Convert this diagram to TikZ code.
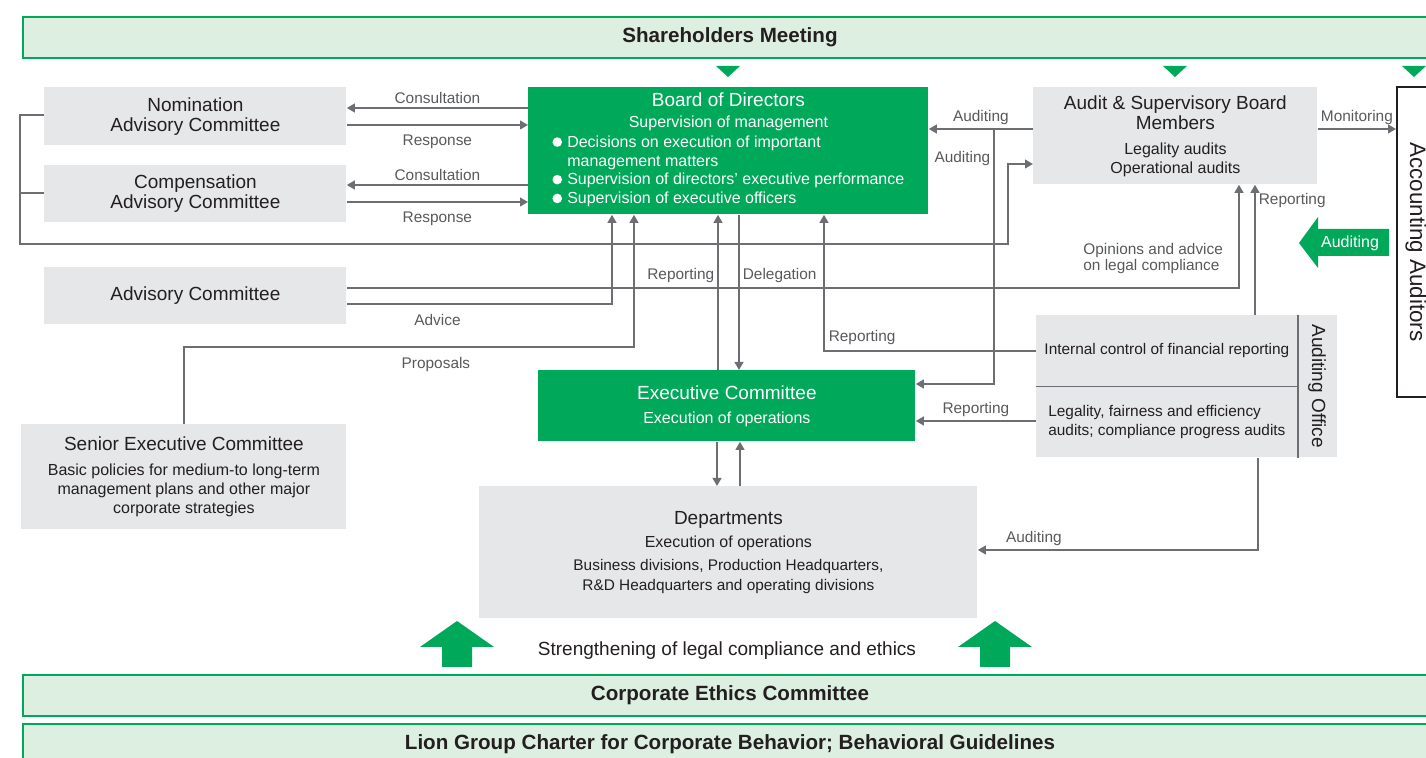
\documentclass[tikz,border=0pt]{standalone}
\usepackage{fontspec}
\setmainfont{Liberation Sans}
\usetikzlibrary{arrows.meta, positioning, calc}
\definecolor{lgreen}{HTML}{00A859}
\definecolor{lgreenbar}{HTML}{DDEFE1}
\definecolor{lgrey}{HTML}{E6E7E8}
\definecolor{lline}{HTML}{6D6E71}
\definecolor{ltext}{HTML}{231F20}
\definecolor{llabel}{HTML}{58595B}
\newcommand\boxtitlefont{\fontsize{9.5}{10}\selectfont}
\newcommand\boxsubfont{\fontsize{8}{9.4}\selectfont}
\newcommand\cellfont{\fontsize{7.7}{9.5}\selectfont}
\newcommand\linkfont{\fontsize{7.7}{8}\selectfont}
\newcommand\barfont{\fontsize{10.3}{12}\selectfont\bfseries}
\newcommand\wdot{\tikz[baseline={(0pt,-2.6pt)}]\fill[white] (0pt,0pt) circle (2.4pt);\hspace{2.6pt}}
\tikzset{
	greybox/.style={
			rectangle,
			fill=lgrey,
			text=ltext,
			inner sep=0pt,
			align=center,
			font=\boxtitlefont
		},
	greenbox/.style={
			greybox,
			fill=lgreen,
			text=white
		},
	barbox/.style={
			rectangle,
			fill=lgreenbar,
			draw=lgreen,
			line width=1pt,
			text=ltext,
			inner sep=0pt,
			minimum width=707pt,
			minimum height=20.5pt,
			font=\barfont
		},
	linklabel/.style={
			text=llabel,
			font=\linkfont,
			inner sep=1.5pt,
			align=left
		},
	labelbelow/.style={
			linklabel,
			below,
			yshift=-3pt
		},
	linkline/.style={
			draw=lline,
			line width=0.85pt
		},
	linkarrow/.style={
			linkline,
			-{Triangle[length=4pt,width=4.4pt]}
		},
	greenmark/.style={
			fill=lgreen
		}
}

\begin{document}
\begin{tikzpicture}[x=0.5pt,y=-0.5pt]
\useasboundingbox (0,0) rectangle (1426,758);
\clip (0,0) rectangle (1426,758);

% bars
\node[barbox, anchor=north west] (share) at (22,16) {Shareholders Meeting};
\node[barbox, anchor=north west] (ethics) at (22,674) {Corporate Ethics Committee};
\node[barbox, anchor=north west] (lion) at (22,723) {Lion Group Charter for Corporate Behavior; Behavioral Guidelines};

\fill[greenmark] (716,66) -- (740,66) -- (728,77) -- cycle;
\fill[greenmark] (1163,66) -- (1187,66) -- (1175,77) -- cycle;
\fill[greenmark] (1402,66) -- (1426,66) -- (1414,77) -- cycle;

% committees
\node[greybox, anchor=north west, minimum width=151pt, minimum height=29pt] (nom) at (44,87) {Nomination\\Advisory Committee};
\node[greybox, anchor=north west, minimum width=151pt, minimum height=28.5pt] (comp) at (44,165) {Compensation\\Advisory Committee};
\node[greybox, anchor=north west, minimum width=151pt, minimum height=28.5pt] (adv) at (44,267) {Advisory Committee};
\node[greybox, anchor=north west, minimum width=162.5pt, minimum height=52.5pt] (senior) at (21,424)
  {Senior Executive Committee\\[2.5pt]
   {\boxsubfont Basic policies for medium-to long-term}\\[-0.6pt]
   {\boxsubfont management plans and other major}\\[-0.6pt]
   {\boxsubfont corporate strategies}};

\node[greenbox, anchor=north west, minimum width=200pt, minimum height=63.5pt] (board) at (528,87)
  {Board of Directors\\[0.5pt]
   {\boxsubfont Supervision of management}\\
   {\boxsubfont\begin{tabular}[t]{@{}l@{}}
     \wdot Decisions on execution of important\\
     \hspace*{7.4pt}management matters\\
     \wdot Supervision of directors' executive performance\\
     \wdot Supervision of executive officers
   \end{tabular}}};

\node[greybox, anchor=north west, minimum width=142pt, minimum height=48.5pt] (audit) at (1033,87)
  {Audit \& Supervisory Board\\Members\\[2.5pt]
   {\boxsubfont Legality audits}\\[-0.5pt]
   {\boxsubfont Operational audits}};

\node[rectangle, draw=ltext, line width=1pt, fill=white, rotate=-90, minimum width=155pt, minimum height=19pt,
  inner sep=0pt, text=ltext, font=\fontsize{11.2}{12}\selectfont] (accaud) at (1416,242) {Accounting Auditors};

\node[greenbox, anchor=north west, minimum width=188.5pt, minimum height=35.5pt] (exec) at (538,370)
  {Executive Committee\\[2pt]{\boxsubfont Execution of operations}};

\node[greybox, anchor=north west, minimum width=249pt, minimum height=66pt] (dept) at (479,486)
  {Departments\\[1.5pt]
   {\boxsubfont Execution of operations}\\[1.5pt]
   {\cellfont Business divisions, Production Headquarters,}\\
   {\cellfont R\&D Headquarters and operating divisions}};

% auditing office
\node[greybox, font=\cellfont, align=left, anchor=north west, minimum width=130.5pt, minimum height=35.5pt] (icfr) at (1036,315)
  {Internal control of financial reporting};
\node[greybox, font=\cellfont, align=left, anchor=north west, minimum width=130.5pt, minimum height=35.5pt] (legal) at (1036,386)
  {Legality, fairness and efficiency\\audits; compliance progress audits};
\node[greybox, rotate=-90, minimum width=71pt, minimum height=20pt] (audname) at (1317,386) {Auditing Office};
\draw[linkline, line width=0.7pt] (icfr.north east) -- (legal.south east);
\draw[linkline, line width=0.7pt] (icfr.south west) -- (icfr.south east);

% connectors
\draw[linkarrow] (board.west |- 0,108) -- (nom.east |- 0,108) node[linklabel, midway, above] {Consultation};
\draw[linkarrow] (nom.east |- 0,125) -- (board.west |- 0,125) node[labelbelow, midway] {Response};
\draw[linkarrow] (board.west |- 0,185) -- (comp.east |- 0,185) node[linklabel, midway, above] {Consultation};
\draw[linkarrow] (comp.east |- 0,202) -- (board.west |- 0,202) node[labelbelow, midway] {Response};

\draw[linkarrow] (nom.west |- 0,115) -| (20,244) -| (1008,164) -- (audit.west |- 0,164);
\draw[linkline] (comp.west |- 0,193) -- (20,193);

\draw[linkarrow] (adv.east |- 0,288) -| (1239,0 |- audit.south);
\node[linklabel, anchor=west] (opinions) at (1080,259) {Opinions and advice\\on legal compliance};
\draw[linkarrow] (adv.east |- 0,304) -| (612,0 |- board.south) node[labelbelow, pos=0.171] {Advice};
\draw[linkarrow] (senior.north) |- (634,347) node[labelbelow, pos=0.78] {Proposals} -- (634,0 |- board.south);

\draw[linkarrow] (exec.north -| 718,0) -- (board.south -| 718,0) node[linklabel, pos=0.61, left] {Reporting};
\draw[linkarrow] (board.south -| 739,0) -- (exec.north -| 739,0) node[linklabel, pos=0.39, right] {Delegation};
\draw[linkarrow] (icfr.west) -| (board.south -| 824,0) node[linklabel, pos=0.41, above, yshift=1pt] {Reporting};

\draw[linkarrow] (audit.west |- 0,129) -- (board.east |- 0,129) node[linklabel, midway, above] {Auditing};
\coordinate (audbranch) at (994,129);
\draw[linkarrow] (audbranch) |- (exec.east |- 0,384) node[linklabel, pos=0.057, left] {Auditing};
\draw[linkarrow] (legal.west |- 0,421) -- (exec.east |- 0,421) node[linklabel, midway, above] {Reporting};
\draw[linkarrow] (icfr.north -| 1255,0) -- (audit.south -| 1255,0) node[linklabel, pos=0.88, right] {Reporting};
\draw[linkarrow] (legal.south -| 1258,0) |- (dept.east |- 0,550) node[linklabel, pos=0.9, above] {Auditing};

\draw[linkarrow] (exec.south -| 717,0) -- (dept.north -| 717,0);
\draw[linkarrow] (dept.north -| 740,0) -- (exec.south -| 740,0);

\draw[linkarrow] (audit.east |- 0,129) -- (accaud.south |- 0,129) node[linklabel, midway, above] {Monitoring};

% green arrows
\fill[greenmark] (1389,229) -- (1318,229) -- (1318,217) -- (1299,243) -- (1318,268) -- (1318,256) -- (1389,256) -- cycle;
\node[text=white, font=\fontsize{8}{9}\selectfont, inner sep=0pt] (audarrow) at (1350,243) {Auditing};

\fill[greenmark] (442,667) -- (442,647) -- (420,647) -- (457,621) -- (494,647) -- (472,647) -- (472,667) -- cycle;
\fill[greenmark] (980,667) -- (980,647) -- (958,647) -- (995,621) -- (1032,647) -- (1010,647) -- (1010,667) -- cycle;
\node[text=ltext, font=\boxtitlefont] (strength) at (727,651) {Strengthening of legal compliance and ethics};

\end{tikzpicture}
\end{document}
